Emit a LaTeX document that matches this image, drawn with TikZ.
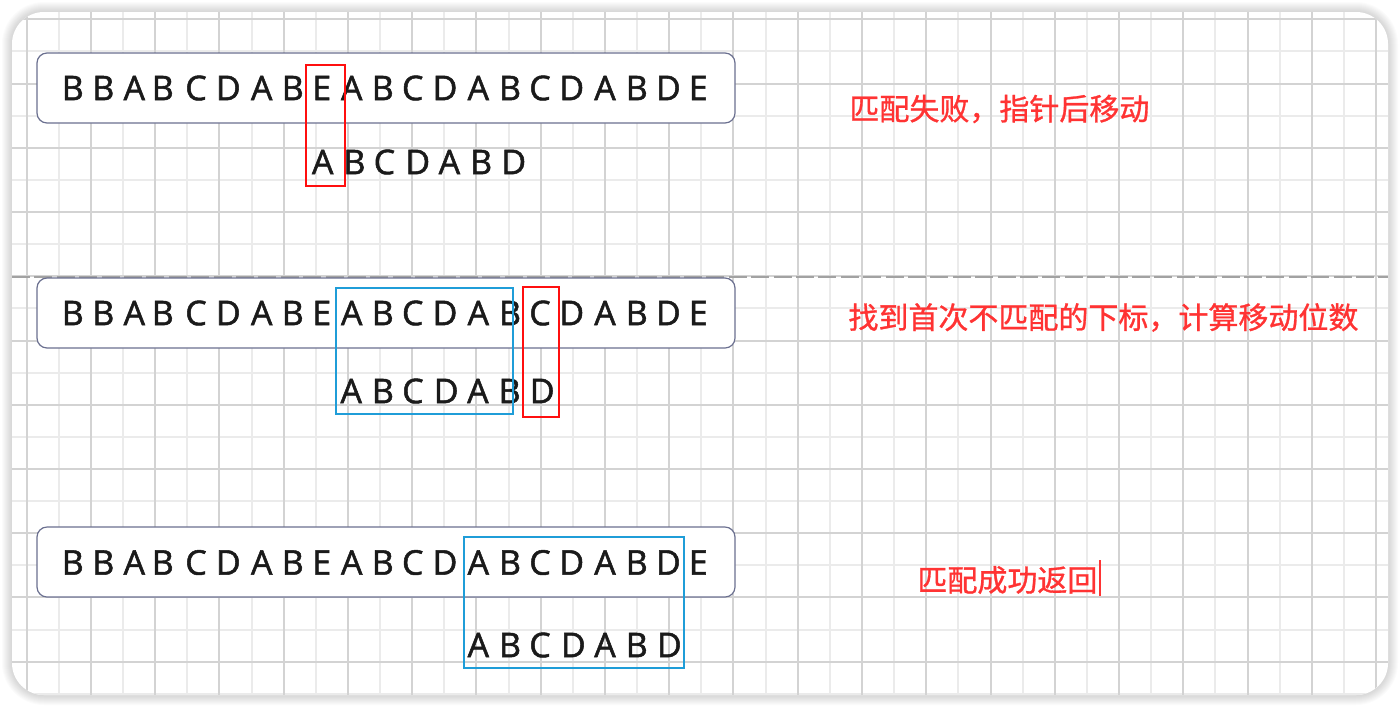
\documentclass[tikz,border=0pt]{standalone}
\usepackage{fontspec}
\setmainfont{Open Sans}
\newfontfamily\letterfont[FakeBold=1.5]{Open Sans}
\newfontfamily\cjk[FakeBold=1]{Noto Sans CJK SC}
\usetikzlibrary{positioning,calc}

\begin{document}
\begin{tikzpicture}
    \def\myunit{0.5pt}
    \definecolor{colgridA}{HTML}{D3D3D3}
    \definecolor{colgridB}{HTML}{EBEBEB}
    \definecolor{coldash}{HTML}{A2A2A2}
    \definecolor{colbox}{HTML}{6B7090}
    \definecolor{colfail}{HTML}{FF0F0F}
    \definecolor{colmatch}{HTML}{1F9DD8}
    \definecolor{colnote}{HTML}{FF3333}
    \definecolor{colchar}{HTML}{1A1A1A}
    \tikzstyle{strbox}=[draw=colbox,fill=white,rounded corners=5pt,line width=0.6pt,
                        minimum width=698*\myunit,minimum height=70*\myunit]
    \tikzstyle{ch}=[inner sep=0pt,text=colchar,font=\letterfont\fontsize{17}{17}\selectfont]
    \tikzstyle{fail}=[draw=colfail,line width=1pt]
    \tikzstyle{match}=[draw=colmatch,line width=1pt]
    \tikzstyle{note}=[anchor=west,inner sep=0pt,text=colnote,font=\cjk\fontsize{15}{15}\selectfont]
    \useasboundingbox (0,0) rectangle (1400*\myunit,-708*\myunit);
    % card shadow
    \foreach \i in {1,...,10}{
        \pgfmathsetmacro\r{16+\i*0.5}
        \fill[black,opacity=0.016,rounded corners=\r pt]
            ({(12-\i)*\myunit},{-(12-\i)*\myunit}) rectangle ({(1388+\i)*\myunit},{-(695+\i)*\myunit});
    }
    % card
    \fill[white,rounded corners=16pt] (12*\myunit,-12*\myunit) rectangle (1388*\myunit,-695*\myunit);
    % grid
    \begin{scope}
        \clip[rounded corners=16pt] (12*\myunit,-12*\myunit) rectangle (1388*\myunit,-695*\myunit);
        \foreach \k in {1,3,...,41}
            \draw[colgridB,line width=1pt] ({(26.6+32.13*\k)*\myunit},-12*\myunit) -- +(0,-683*\myunit);
        \foreach \k in {1,3,...,21}
            \draw[colgridB,line width=1pt] (12*\myunit,{-(19.3+32.12*\k)*\myunit}) -- +(1376*\myunit,0);
        \foreach \k in {0,2,...,42}
            \draw[colgridA,line width=1pt] ({(26.6+32.13*\k)*\myunit},-12*\myunit) -- +(0,-683*\myunit);
        \foreach \k in {0,2,...,20}
            \draw[colgridA,line width=1pt] (12*\myunit,{-(19.3+32.12*\k)*\myunit}) -- +(1376*\myunit,0);
    \end{scope}
    % separator
    \draw[coldash,line width=1.4pt,dash pattern=on 9pt off 2.2pt] (12*\myunit,-277*\myunit) -- (1388*\myunit,-277*\myunit);
    % strings
    \node[strbox] (str1) at (386*\myunit,-88*\myunit) {};
    \node[strbox] (str2) at (386*\myunit,-313*\myunit) {};
    \node[strbox] (str3) at (386*\myunit,-562*\myunit) {};
    \foreach \x/\c [count=\i] in {72.7/B,103.3/B,134.3/A,162.7/B,196/C,228.3/D,261.7/A,292.7/B,321.7/E,351.7/A,
            382.7/B,412.7/C,445/D,478.3/A,510/B,540/C,571.7/D,605/A,636.7/B,668.3/D,698.3/E}{
        \node[ch] (sa\i) at (\x*\myunit,-88*\myunit) {\c};
        \node[ch] (sb\i) at (\x*\myunit,-313*\myunit) {\c};
        \node[ch] (sc\i) at (\x*\myunit,-562.5*\myunit) {\c};
    }
    % pattern
    \foreach \d/\c [count=\i] in {0/A,31.7/B,61.7/C,95/D,126.7/A,158.4/B,191/D}{
        \node[ch] (pa\i) at ({(322.7+\d)*\myunit},-162*\myunit) {\c};
        \node[ch] (pb\i) at ({(351.2+\d)*\myunit},-391*\myunit) {\c};
        \node[ch] (pc\i) at ({(478.3+\d)*\myunit},-645*\myunit) {\c};
    }
    % marks
    \draw[fail] (306*\myunit,-64.5*\myunit) rectangle (344.5*\myunit,-185.5*\myunit);
    \draw[match] (336*\myunit,-288.3*\myunit) rectangle (512.7*\myunit,-414*\myunit);
    \draw[fail] (522.7*\myunit,-286.5*\myunit) rectangle (558.5*\myunit,-416.5*\myunit);
    \draw[match] (464*\myunit,-536.7*\myunit) rectangle (684.3*\myunit,-667.7*\myunit);
    % notes
    \node[note] (note1) at (849*\myunit,-109*\myunit) {匹配失败，指针后移动};
    \node[note] (note2) at (848*\myunit,-317.5*\myunit) {找到首次不匹配的下标，计算移动位数};
    \node[note] (note3) at (917*\myunit,-580*\myunit) {匹配成功返回};
    \draw[colnote,line width=0.8pt] ($(note3.east)+(2*\myunit,20*\myunit)$) -- +(0,-36*\myunit);
\end{tikzpicture}
\end{document}
